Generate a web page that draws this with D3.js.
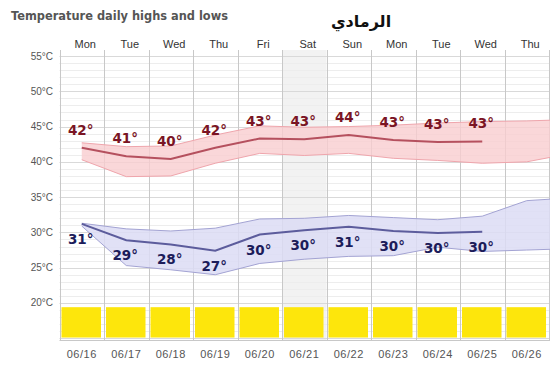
<!DOCTYPE html>
<html><head><meta charset="utf-8">
<script src="https://cdn.jsdelivr.net/npm/d3@7/dist/d3.min.js"></script>
<style>
html,body{margin:0;padding:0;background:#fff;}
svg{display:block;}
</style></head>
<body>
<svg id="chart" width="550" height="366"></svg>
<script>
const days = ["Mon","Tue","Wed","Thu","Fri","Sat","Sun","Mon","Tue","Wed","Thu"];
const dates = ["06/16","06/17","06/18","06/19","06/20","06/21","06/22","06/23","06/24","06/25","06/26"];
const highlighted = [false,false,false,false,false,true,false,false,false,false,false];
const highs = [42.0, 40.8, 40.4, 42.0, 43.3, 43.2, 43.8, 43.1, 42.8, 42.9];
const lows  = [31.2, 28.9, 28.3, 27.4, 29.7, 30.3, 30.8, 30.2, 29.9, 30.1];
const highBandTop    = [42.7, 42.15, 42.25, 43.8, 45.1, 44.9, 45.0, 45.2, 45.5, 45.7, 45.8, 46.0];
const highBandBottom = [40.3, 37.9, 38.0, 39.8, 41.2, 40.9, 41.2, 40.5, 40.2, 39.8, 40.0, 41.2];
const lowBandTop     = [31.3, 30.5, 30.2, 30.6, 31.9, 32.0, 32.4, 32.1, 31.8, 32.3, 34.5, 34.9];
const lowBandBottom  = [30.9, 25.3, 24.7, 24.0, 25.6, 26.2, 26.6, 26.7, 27.9, 27.3, 27.5, 27.7];
const yTicks = [20, 25, 30, 35, 40, 45, 50, 55];
const title = "Temperature daily highs and lows";
const place = "الرمادي";

const svg = d3.select("#chart");
const x = d3.scaleLinear().domain([-0.5, 10.5]).range([59.5, 549]);
const y = d3.scaleLinear().domain([14.75, 55]).range([340, 56]);
const plotTop = 50, plotBottom = 340;

// highlighted column shading
svg.append("g").selectAll("rect").data(days.map((d,i)=>i).filter(i=>highlighted[i])).join("rect")
  .attr("x", i=>x(i-0.5)).attr("width", i=>x(i+0.5)-x(i-0.5))
  .attr("y", plotTop).attr("height", plotBottom-plotTop)
  .attr("fill", "#f2f2f2");

// horizontal gridlines
const minor = d3.range(15, 56, 1);
svg.append("g").selectAll("line").data(minor).join("line")
  .attr("x1", x(-0.5)).attr("x2", 550)
  .attr("y1", d=>Math.round(y(d))+0.5).attr("y2", d=>Math.round(y(d))+0.5)
  .attr("stroke", d=> d%5===0 ? "#d9d9d9" : "#ededed").attr("stroke-width", 1);

// vertical gridlines
svg.append("g").selectAll("line").data(d3.range(0, 12)).join("line")
  .attr("x1", i=>Math.round(x(i-0.5))+0.5).attr("x2", i=>Math.round(x(i-0.5))+0.5)
  .attr("y1", plotTop).attr("y2", plotBottom)
  .attr("stroke", "#c8c8c8").attr("stroke-width", 1);

// bottom line
svg.append("line").attr("x1", x(-0.5)).attr("x2", 550)
  .attr("y1", plotBottom+0.5).attr("y2", plotBottom+0.5).attr("stroke", "#c8c8c8");

// yellow boxes
svg.append("g").selectAll("rect").data(dates).join("rect")
  .attr("x", (d,i)=>x(i-0.5)+2).attr("width", (d,i)=>x(i+0.5)-x(i-0.5)-5)
  .attr("y", y(19.4)).attr("height", y(15.1)-y(19.4))
  .attr("fill", "#fde60c");

// bands
const idx = highBandTop.map((d,i)=>i);
const area = (top, bot) => d3.area().x(i=>x(i)).y0(i=>y(bot[i])).y1(i=>y(top[i]));
const lineOf = (arr) => d3.line().x(i=>x(i)).y(i=>y(arr[i]));

svg.append("path").attr("d", area(highBandTop, highBandBottom)(idx))
  .attr("fill", "#f9cdd0").attr("fill-opacity", 0.8);
svg.append("path").attr("d", lineOf(highBandTop)(idx)).attr("fill","none").attr("stroke","#efa5ac").attr("stroke-width",1);
svg.append("path").attr("d", lineOf(highBandBottom)(idx)).attr("fill","none").attr("stroke","#efa5ac").attr("stroke-width",1);

svg.append("path").attr("d", area(lowBandTop, lowBandBottom)(idx))
  .attr("fill", "#dcdcf4").attr("fill-opacity", 0.85);
svg.append("path").attr("d", lineOf(lowBandTop)(idx)).attr("fill","none").attr("stroke","#a3a3d3").attr("stroke-width",1);
svg.append("path").attr("d", lineOf(lowBandBottom)(idx)).attr("fill","none").attr("stroke","#a3a3d3").attr("stroke-width",1);

// main lines
const hIdx = highs.map((d,i)=>i);
svg.append("path").attr("d", lineOf(highs)(hIdx)).attr("fill","none").attr("stroke","#b5505e").attr("stroke-width",2);
svg.append("path").attr("d", lineOf(lows)(hIdx)).attr("fill","none").attr("stroke","#5c5c9c").attr("stroke-width",2);

// value labels
svg.append("g").selectAll("text").data(highs).join("text")
  .attr("x", (d,i)=>x(i)-1).attr("y", d=>y(d)-13)
  .attr("text-anchor","middle")
  .attr("font-family","DejaVu Sans, sans-serif").attr("font-size", 13.5).attr("font-weight","bold")
  .attr("fill","#7a1424")
  .text(d=>Math.round(d)+"°");
svg.append("g").selectAll("text").data(lows).join("text")
  .attr("x", (d,i)=>x(i)-1).attr("y", d=>y(d)+20)
  .attr("text-anchor","middle")
  .attr("font-family","DejaVu Sans, sans-serif").attr("font-size", 13.5).attr("font-weight","bold")
  .attr("fill","#1c1c5a")
  .text(d=>Math.round(d)+"°");

// y axis labels
svg.append("g").selectAll("text").data(yTicks).join("text")
  .attr("x", 53).attr("y", d=>y(d)+3.5)
  .attr("text-anchor","end")
  .attr("font-family","Liberation Sans, Arial, sans-serif").attr("font-size", 10)
  .attr("fill","#555")
  .text(d=>d+"°C");

// day labels
svg.append("g").selectAll("text").data(days).join("text")
  .attr("x", (d,i)=>x(i)+3.5).attr("y", 48)
  .attr("text-anchor","middle")
  .attr("font-family","Liberation Sans, Arial, sans-serif").attr("font-size", 11)
  .attr("fill","#333")
  .text(d=>d);

// date labels
svg.append("g").selectAll("text").data(dates).join("text")
  .attr("x", (d,i)=>x(i)).attr("y", 358)
  .attr("text-anchor","middle")
  .attr("font-family","Liberation Sans, Arial, sans-serif").attr("font-size", 11)
  .attr("fill","#555").attr("letter-spacing", 0.5)
  .text(d=>d);

// titles
svg.append("text").attr("x", 11).attr("y", 20)
  .attr("font-family","DejaVu Sans, sans-serif").attr("font-weight","bold").attr("font-size", 11.5)
  .attr("fill","#555").attr("textLength", 217).attr("lengthAdjust","spacingAndGlyphs")
  .text(title);
svg.append("text").attr("x", 361).attr("y", 27)
  .attr("text-anchor","middle")
  .attr("font-family","DejaVu Sans, sans-serif").attr("font-weight","bold").attr("font-size", 16)
  .attr("fill","#111")
  .text(place);
</script>
</body></html>
